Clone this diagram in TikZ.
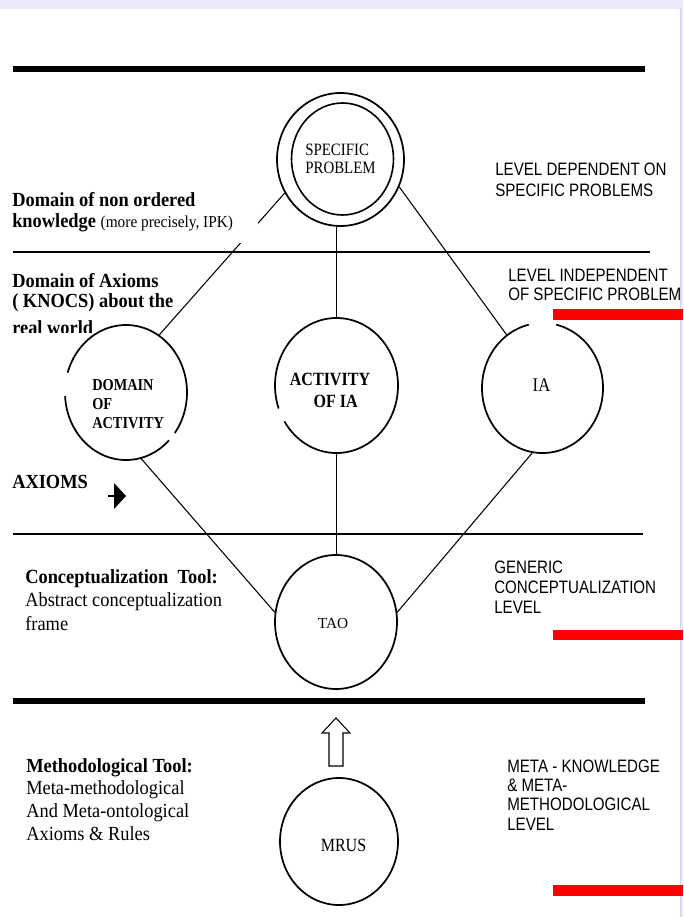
\documentclass[tikz,border=0pt]{standalone}
\usepackage{fontspec}
\setmainfont{Liberation Serif}
\newfontfamily\labfont[FakeStretch=0.92]{Liberation Serif}
\newfontfamily\insfont[FakeStretch=0.86]{Liberation Serif}
\newfontfamily\lvlfont[FakeStretch=0.84]{Liberation Sans}
\usetikzlibrary{shapes.geometric}

\definecolor{lav}{RGB}{233,233,250}
\definecolor{lavedge}{RGB}{208,208,240}

\begin{document}
\begin{tikzpicture}[x=0.75pt,y=-0.75pt,
  ring/.style={ellipse, draw, line width=1.3pt, inner sep=0pt},
  link/.style={line width=0.8pt},
  gap/.style={white, line width=3pt},
  bar/.style={fill=red},
  rule/.style={line width=4.5pt},
  thinrule/.style={line width=1.1pt},
  lefttext/.style={anchor=base west, align=left, inner sep=0pt},
  leveltext/.style={anchor=base west, align=left, inner sep=0pt}
]
\useasboundingbox (0,0) rectangle (683,917);
\fill[white] (0,0) rectangle (683,917);

% frame strips
\fill[lav] (0,0) rectangle (683,9);
\fill[lav] (680,0) rectangle (683,917);
\draw[lavedge, line width=0.6pt] (680,9) -- (680,917);

% level separators
\draw[rule] (13,69) -- (645,69);
\draw[thinrule] (13,252) -- (650,252);
\draw[thinrule] (13,534) -- (643,534);
\draw[rule] (13,700.5) -- (645,700.5);

% concept nodes
\node[ring, minimum width=95.25pt, minimum height=99.75pt] (sp) at (340.5,159.5) {};
\draw[line width=1.2pt] (342.5,159) ellipse [x radius=38.25pt, y radius=42pt];
\node[ring, minimum width=91.5pt, minimum height=101.25pt] (dom) at (126,392.5) {};
\node[ring, minimum width=92.25pt, minimum height=101.25pt] (act) at (336.5,385.5) {};
\node[ring, minimum width=90.75pt, minimum height=97.5pt] (ia) at (542.5,388) {};
\node[ring, minimum width=91.5pt, minimum height=100.5pt] (tao) at (336,622) {};
\node[ring, minimum width=88.5pt, minimum height=95.25pt] (mrus) at (339,841.5) {};

% broken stretches of the rings
\draw[gap] ([shift={(163:45.75pt and 50.625pt)}]dom.center) arc[start angle=163, end angle=183, x radius=45.75pt, y radius=50.625pt];
\draw[gap] ([shift={(-45:45.75pt and 50.625pt)}]dom.center) arc[start angle=-45, end angle=-37, x radius=45.75pt, y radius=50.625pt];
\draw[gap] ([shift={(200:46.125pt and 50.625pt)}]act.center) arc[start angle=200, end angle=212, x radius=46.125pt, y radius=50.625pt];
\draw[gap] ([shift={(77:45.375pt and 48.75pt)}]ia.center) arc[start angle=77, end angle=103, x radius=45.375pt, y radius=48.75pt];

% connectors
\draw[link] (sp.211) -- (dom.60);
\draw[link] (act.north |- sp.south) -- (act.north);
\draw[link] (sp.-25) -- (ia.124);
\draw[link] (dom.-77) -- (tao.171);
\draw[link] (act.south) -- (act.south |- tao.north);
\draw[link] (ia.-99) -- (tao.9);

% hollow arrow from MRUS up to the conceptualization level
\draw[line width=0.8pt, fill=white, line join=miter]
  (336,718) -- (350,733) -- (343,733) -- (343,766) -- (329,766) -- (329,733) -- (322,733) -- cycle;

% small pointer beside AXIOMS
\draw[line width=1pt] (108,496) -- (114,496);
\fill (114,483) -- (126,496) -- (114,509) -- cycle;

% red markers
\fill[bar] (553,309) rectangle (683,320);
\fill[bar] (553,630) rectangle (683,640);
\fill[bar] (553,885) rectangle (683,896);

% texts inside the rings (base anchor = last line)
\node[anchor=base west, align=left, inner sep=0pt, font=\insfont\fontsize{13}{13.5}\selectfont] (sptxt) at (305,173) {SPECIFIC\\PROBLEM};
\node[anchor=base west, align=left, inner sep=0pt, font=\insfont\bfseries\fontsize{12.5}{13.9}\selectfont] (domtxt) at (92,428) {DOMAIN\\OF\\ACTIVITY};
\node[anchor=base, align=center, inner sep=0pt, font=\insfont\bfseries\fontsize{14}{16.5}\selectfont] (acttxt) at (330,407) {ACTIVITY\\\hspace{0.6em}OF IA};
\node[anchor=base, inner sep=0pt, font=\insfont\fontsize{14.5}{16}\selectfont] (iatxt) at (541.5,391) {IA};
\node[anchor=base, inner sep=0pt, font=\fontsize{11.5}{13}\selectfont] (taotxt) at (333,628) {TAO};
\node[anchor=base, inner sep=0pt, font=\insfont\fontsize{14}{15}\selectfont] (mrustxt) at (343.5,851) {MRUS};

% left-hand descriptions
\fill[white] (8,184) rectangle (258,243);
\node[lefttext, font=\labfont\fontsize{15}{15.75}\selectfont] (lbl1) at (12,227)
  {\textbf{Domain of non ordered}\\\textbf{knowledge} {\fontsize{12.5}{15.75}\selectfont(more precisely, IPK)}};
\node[lefttext, font=\labfont\bfseries\fontsize{15}{15}\selectfont] (lbl2) at (12,307)
  {Domain of Axioms\\( KNOCS) about the};
\begin{scope}
  \clip (0,310) rectangle (300,332);
  \node[lefttext, font=\labfont\bfseries\fontsize{15}{15}\selectfont] (lbl2b) at (12,334) {real world};
\end{scope}
\node[lefttext, font=\labfont\bfseries\fontsize{15}{16}\selectfont] (lbl3) at (12,488) {AXIOMS};
\node[lefttext, font=\labfont\fontsize{15}{17.6}\selectfont] (lbl4) at (25,630)
  {\textbf{Conceptualization\ \ Tool:}\\Abstract conceptualization\\frame};
\node[lefttext, font=\labfont\fontsize{15}{17}\selectfont] (lbl5) at (26,840)
  {\textbf{Methodological Tool:}\\Meta-methodological\\And Meta-ontological\\Axioms \& Rules};

% right-hand level names (base anchor = last line)
\node[leveltext, font=\lvlfont\fontsize{13.5}{15.75}\selectfont] (lev1) at (495,196) {LEVEL DEPENDENT ON\\SPECIFIC PROBLEMS};
\node[leveltext, font=\lvlfont\fontsize{13.5}{13.8}\selectfont] (lev2) at (508,300) {LEVEL INDEPENDENT\\OF SPECIFIC PROBLEM};
\node[leveltext, font=\lvlfont\fontsize{13.5}{15}\selectfont] (lev3) at (494,613) {GENERIC\\CONCEPTUALIZATION\\LEVEL};
\node[leveltext, font=\lvlfont\fontsize{13.5}{14.3}\selectfont] (lev4) at (507,830) {META - KNOWLEDGE\\\& META-\\METHODOLOGICAL\\LEVEL};
\end{tikzpicture}
\end{document}
